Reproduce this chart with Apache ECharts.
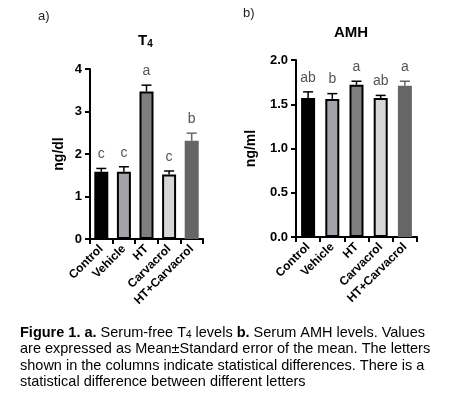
<!DOCTYPE html>
<html><head><meta charset="utf-8">
<script src="https://cdn.jsdelivr.net/npm/echarts@6/dist/echarts.min.js"></script>
<style>html,body{margin:0;padding:0;background:#fff}#c{width:470px;height:404px}</style>
</head><body><div id="c"></div>
<script>
const categories = ['Control','Vehicle','HT','Carvacrol','HT+Carvacrol'];
const t4Values = [1.58, 1.58, 3.47, 1.52, 2.31];
const t4Errors = [0.08, 0.12, 0.15, 0.08, 0.18];
const t4Letters = ['c','c','a','c','b'];
const amhValues = [1.57, 1.56, 1.72, 1.57, 1.71];
const amhErrors = [0.07, 0.06, 0.04, 0.03, 0.05];
const amhLetters = ['ab','b','a','ab','a'];
const barColors = ['#000000','#a2a2aa','#7f7f7f','#d6d6d6','#666666'];
const borderColors = ['#000','#000','#000','#000','#666666'];

const chart = echarts.init(document.getElementById('c'));
function barSeries(idx, vals){
  return {type:'bar', xAxisIndex:idx, yAxisIndex:idx, barWidth:14, z:2,
    data: vals.map((v,i)=>({value:v, itemStyle:{color:barColors[i], borderColor:borderColors[i], borderWidth:2}}))};
}
function errSeries(idx, vals, errs, letters){
  return {type:'custom', xAxisIndex:idx, yAxisIndex:idx, z:3,
    data: vals.map((v,i)=>[i, v, errs[i]]),
    renderItem:(p,api)=>{
      const i=api.value(0), v=api.value(1), e=api.value(2);
      const top=api.coord([i,v+e]), base=api.coord([i,v]);
      const col = i===4 ? '#666' : '#000';
      return {type:'group', children:[
        {type:'line', shape:{x1:top[0],y1:top[1],x2:base[0],y2:base[1]}, style:{stroke:col,lineWidth:1.5}},
        {type:'line', shape:{x1:top[0]-5,y1:top[1],x2:top[0]+5,y2:top[1]}, style:{stroke:col,lineWidth:1.5}},
        {type:'text', x:top[0], y:top[1]-7, style:{text:letters[i], fill:'#555', font:'14px Arial', textAlign:'center', textVerticalAlign:'bottom'}}
      ]};
    }};
}
const axisCommon = {axisLine:{show:true, lineStyle:{color:'#000',width:2}}, axisTick:{show:true, lineStyle:{color:'#000',width:2},length:5}};
const capTop = 325, lh = 16.5;
const capFont = '14.5px Arial';
chart.setOption({
  animation:false,
  grid:[{left:90,top:69,width:113,height:170},{left:296,top:60,width:121,height:177}],
  xAxis:[0,1].map(g=>Object.assign({type:'category', gridIndex:g, data:categories,
    axisLabel:{rotate:45, color:'#000', fontWeight:'bold', fontSize:12, fontFamily:'Arial', margin:8, interval:0}}, axisCommon)),
  yAxis:[
    Object.assign({type:'value', gridIndex:0, min:0, max:4, interval:1, splitLine:{show:false},
      name:'ng/dl', nameLocation:'middle', nameGap:24, nameRotate:90,
      nameTextStyle:{fontWeight:'bold', fontSize:14, fontFamily:'Arial', color:'#000'},
      axisLabel:{color:'#000', fontWeight:'bold', fontSize:13, fontFamily:'Arial'}}, axisCommon),
    Object.assign({type:'value', gridIndex:1, min:0, max:2, interval:0.5, splitLine:{show:false},
      name:'ng/ml', nameLocation:'middle', nameGap:38, nameRotate:90,
      nameTextStyle:{fontWeight:'bold', fontSize:14, fontFamily:'Arial', color:'#000'},
      axisLabel:{color:'#000', fontWeight:'bold', fontSize:13, fontFamily:'Arial', formatter:v=>v.toFixed(1)}}, axisCommon)
  ],
  series:[barSeries(0,t4Values), errSeries(0,t4Values,t4Errors,t4Letters),
          barSeries(1,amhValues), errSeries(1,amhValues,amhErrors,amhLetters)],
  graphic:[
    {type:'text', left:38, top:10, style:{text:'a)', font:'13px Arial', fill:'#222'}},
    {type:'text', left:243, top:7, style:{text:'b)', font:'13px Arial', fill:'#222'}},
    {type:'text', left:138, top:33, style:{rich:{m:{font:'bold 15px Arial',fill:'#000'},s:{font:'bold 10px Arial',fill:'#000',padding:[8,0,0,0]}}, text:'{m|T}{s|4}'}},
    {type:'text', left:334, top:25, style:{text:'AMH', font:'bold 15px Arial', fill:'#000'}},
    {type:'text', left:20, top:capTop, style:{rich:{b:{font:'bold 14.5px Arial',fill:'#000'},n:{font:capFont,fill:'#000'},s:{font:'10px Arial',fill:'#000',padding:[6,0,0,0]}},
      text:'{b|Figure 1. a.}{n| Serum-free T}{s|4}{n| levels }{b|b.}{n| Serum AMH levels. Values}'}},
    {type:'text', left:20, top:capTop+lh, style:{text:'are expressed as Mean±Standard error of the mean. The letters', font:capFont, fill:'#000'}},
    {type:'text', left:20, top:capTop+2*lh, style:{text:'shown in the columns indicate statistical differences. There is a', font:capFont, fill:'#000'}},
    {type:'text', left:20, top:capTop+3*lh, style:{text:'statistical difference between different letters', font:capFont, fill:'#000'}}
  ]
});
</script></body></html>
